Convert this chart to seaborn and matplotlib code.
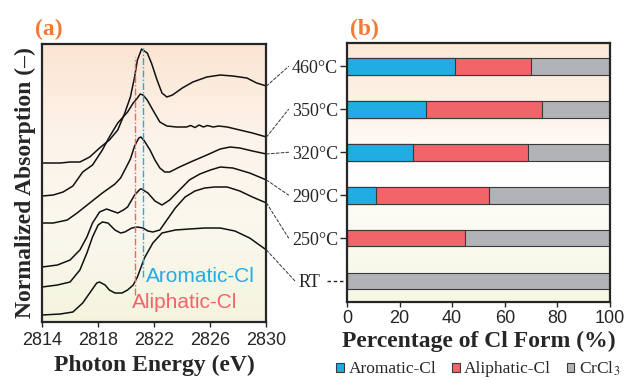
import matplotlib
matplotlib.use('Agg')
import matplotlib.pyplot as plt
from matplotlib.colors import LinearSegmentedColormap
from matplotlib.patches import Patch, ConnectionPatch
from matplotlib.lines import Line2D
import numpy as np
import pandas as pd
import seaborn as sns

# ---- (a) Cl K-edge spectra, offset stack ----
e_460 = [2814.0, 2815.3, 2816.0, 2816.7, 2817.4, 2818.1, 2818.8, 2819.4, 2819.9, 2820.3,
         2820.6, 2820.8, 2821.1, 2821.5, 2821.8, 2822.2, 2822.55, 2822.9, 2823.3, 2824.0,
         2824.75, 2825.75, 2826.7, 2827.6, 2828.6, 2829.3, 2830.0]
a_460 = [1.59, 1.59, 1.60, 1.60, 1.65, 1.74, 1.82, 1.92, 2.09, 2.25,
         2.45, 2.62, 2.73, 2.69, 2.59, 2.42, 2.29, 2.25, 2.27, 2.34,
         2.40, 2.45, 2.47, 2.46, 2.44, 2.39, 2.36]

e_350 = [2814.0, 2814.8, 2815.5, 2816.2, 2816.6, 2816.9, 2817.6, 2818.3, 2818.8, 2819.4,
         2820.1, 2820.5, 2820.8, 2821.0, 2821.2, 2821.5, 2821.9, 2822.4, 2822.9, 2823.6,
         2824.3, 2824.6, 2824.9, 2825.2, 2825.5, 2825.8, 2826.2, 2826.6, 2827.2, 2828.1,
         2829.0, 2830.0]
a_350 = [1.26, 1.27, 1.30, 1.36, 1.44, 1.50, 1.57, 1.72, 1.85, 1.99,
         2.10, 2.19, 2.24, 2.28, 2.27, 2.22, 2.12, 2.00, 1.96, 1.95,
         1.95, 1.965, 1.945, 1.97, 1.95, 1.965, 1.95, 1.96, 1.95, 1.92,
         1.89, 1.85]

e_320 = [2814.0, 2814.8, 2815.8, 2816.5, 2817.4, 2818.3, 2818.8, 2819.2, 2819.6, 2819.9,
         2820.3, 2820.6, 2820.9, 2821.05, 2821.3, 2821.7, 2822.05, 2822.4, 2822.75, 2823.1,
         2823.8, 2824.75, 2825.75, 2826.7, 2827.4, 2828.1, 2829.0, 2830.0]
a_320 = [0.99, 0.99, 1.02, 1.09, 1.19, 1.29, 1.34, 1.38, 1.44, 1.52,
         1.63, 1.76, 1.84, 1.85, 1.81, 1.72, 1.62, 1.54, 1.50, 1.50,
         1.55, 1.61, 1.67, 1.73, 1.75, 1.74, 1.71, 1.68]

e_290 = [2814.0, 2815.1, 2816.0, 2816.7, 2817.2, 2817.6, 2818.1, 2818.6, 2819.0, 2819.4,
         2819.8, 2820.1, 2820.6, 2821.0, 2821.1, 2821.55, 2822.05, 2822.55, 2823.1, 2823.8,
         2824.5, 2825.25, 2826.0, 2826.7, 2827.6, 2828.8, 2830.0]
a_290 = [0.55, 0.57, 0.62, 0.72, 0.85, 0.99, 1.10, 1.13, 1.11, 1.09,
         1.12, 1.15, 1.27, 1.33, 1.33, 1.29, 1.21, 1.17, 1.22, 1.32,
         1.42, 1.48, 1.52, 1.55, 1.54, 1.49, 1.42]

e_250 = [2814.0, 2815.1, 2816.0, 2816.7, 2817.2, 2817.6, 2818.0, 2818.3, 2818.7, 2819.2,
         2819.6, 2819.9, 2820.4, 2820.8, 2821.2, 2821.55, 2821.9, 2822.4, 2822.9, 2823.5,
         2824.2, 2824.9, 2825.6, 2826.3, 2827.2, 2828.1, 2829.0, 2830.0]
a_250 = [0.35, 0.37, 0.40, 0.52, 0.69, 0.85, 0.97, 1.00, 0.99, 0.92,
         0.89, 0.90, 0.94, 0.95, 0.94, 0.91, 0.90, 0.92, 1.02, 1.14,
         1.25, 1.31, 1.34, 1.35, 1.35, 1.31, 1.25, 1.19]

e_rt = [2814.0, 2815.3, 2816.2, 2816.9, 2817.4, 2817.9, 2818.1, 2818.5, 2818.8, 2819.2,
        2819.7, 2820.1, 2820.5, 2820.8, 2821.3, 2821.9, 2822.55, 2823.5, 2824.5, 2825.6,
        2826.7, 2827.75, 2828.8, 2830.0]
a_rt = [0.07, 0.08, 0.10, 0.19, 0.29, 0.39, 0.40, 0.37, 0.32, 0.29,
        0.29, 0.32, 0.37, 0.45, 0.64, 0.79, 0.89, 0.92, 0.93, 0.94,
        0.94, 0.91, 0.84, 0.72]

e_aliph = 2820.64   # Aliphatic-Cl reference line
e_arom = 2821.2     # Aromatic-Cl reference line

# ---- (b) Cl speciation (%) ----
temps = ['460°C', '350°C', '320°C', '290°C', '250°C', 'RT']
aromatic = [41, 30, 25, 11, 0, 0]
aliphatic = [29, 44, 44, 43, 45, 0]
crcl3 = [30, 26, 31, 46, 55, 100]

C_ARO = '#21ade3'
C_ALI = '#f0646a'
C_CR = '#b2b3b7'
INK = '#262626'
ORANGE = '#f27a34'

sns.set_style('ticks')
plt.rcParams['font.family'] = ['Liberation Serif', 'DejaVu Serif']
plt.rcParams['mathtext.fontset'] = 'stix'
plt.rcParams['axes.linewidth'] = 1.6
plt.rcParams['axes.edgecolor'] = INK


def shade(ax, colors):
    cmap = LinearSegmentedColormap.from_list('bg', colors)
    ax.imshow(np.linspace(0, 1, 256)[:, None], cmap=cmap, aspect='auto',
              extent=(0, 1, 0, 1), transform=ax.transAxes, zorder=0,
              interpolation='bilinear')


fig = plt.figure(figsize=(6.26, 3.8), dpi=100)
axa = fig.add_axes([0.0671, 0.1526, 0.3586, 0.7329])
axb = fig.add_axes([0.5543, 0.2053, 0.4201, 0.6803])

# ---------------- panel (a) ----------------
shade(axa, ['#fbe5d2', '#fdf3ea', '#faf8ee', '#f4f4de'])
spectra = [(e_460, a_460), (e_350, a_350), (e_320, a_320),
           (e_290, a_290), (e_250, a_250), (e_rt, a_rt)]
for e, a in spectra:
    sns.lineplot(x=e, y=a, ax=axa, color='#111111', lw=1.1, sort=False,
                 estimator=None, solid_joinstyle='round')

axa.plot([e_aliph, e_aliph], [0.27, 2.65], color=C_ALI, lw=1.0, ls=(0, (5, 1.5, 1, 1.5)))
axa.plot([e_arom, e_arom], [0.45, 2.74], color=C_ARO, lw=1.0, ls=(0, (5, 1.5, 1, 1.5)))
axa.text(2821.4, 0.46, 'Aromatic-Cl', color=C_ARO, fontsize=15, va='center',
         family='Liberation Sans')
axa.text(2820.42, 0.20, 'Aliphatic-Cl', color=C_ALI, fontsize=15, va='center',
         family='Liberation Sans')

axa.set_xlim(2814, 2830)
axa.set_ylim(0, 2.785)
axa.set_xticks([2814, 2818, 2822, 2826, 2830])
axa.set_yticks([])
axa.tick_params(axis='x', direction='out', length=3.5, width=1.0, pad=4,
                labelsize=13, colors=INK)
for lab in axa.get_xticklabels():
    lab.set_fontfamily('Liberation Sans')
axa.set_xlabel('Photon Energy (eV)', fontsize=17, fontweight='bold', color=INK)
axa.xaxis.set_label_coords(0.5, -0.118)
axa.set_ylabel('Normalized Absorption (–)', fontsize=17, fontweight='bold', color=INK)
axa.yaxis.set_label_coords(-0.027, 0.5)

# ---------------- panel (b) ----------------
shade(axb, ['#fce9d8', '#fdf3e8', '#ffffff', '#fafaf0', '#f7f7e4'])
df = pd.DataFrame({'temp': temps, 'aro': aromatic, 'ali': aliphatic, 'cr': crcl3})
df['ali_end'] = df['aro'] + df['ali']
df['cr_end'] = df['ali_end'] + df['cr']
for col, c in [('cr_end', C_CR), ('ali_end', C_ALI), ('aro', C_ARO)]:
    sns.barplot(data=df, x=col, y='temp', order=temps, orient='h', color=c,
                saturation=1, width=0.39, edgecolor='#3a3a3a', linewidth=0.8,
                errorbar=None, ax=axb)

axb.set_xlim(0, 100)
axb.set_ylim(5.49, -0.535)
axb.set_xticks(range(0, 101, 20))
axb.tick_params(axis='x', direction='out', length=3.5, width=1.0, pad=2.5,
                labelsize=13, colors=INK)
for lab in axb.get_xticklabels():
    lab.set_fontfamily('Liberation Sans')
axb.tick_params(axis='y', direction='out', length=5, width=1.0, pad=1.5,
                labelsize=13, colors=INK)
rt_tick = axb.yaxis.get_major_ticks()[temps.index('RT')]
rt_tick.tick1line.set_visible(False)
rt_tick.set_pad(14.5)
axb.add_line(Line2D([-0.075, -0.006], [temps.index('RT')] * 2,
                    transform=axb.get_yaxis_transform(), color=INK, lw=1.0,
                    ls=(0, (2.5, 2)), clip_on=False))
axb.set_ylabel('')
axb.set_xlabel('Percentage of Cl Form (%)', fontsize=17, fontweight='bold', color=INK)
axb.xaxis.set_label_coords(0.5, -0.112)

# dashed leaders from each spectrum end to its temperature label
lead_x = [-0.222, -0.222, -0.222, -0.222, -0.222, -0.198]
for i, (e, a) in enumerate(spectra):
    con = ConnectionPatch(xyA=(e[-1], a[-1]), coordsA=axa.transData,
                          xyB=(lead_x[i], i), coordsB=axb.get_yaxis_transform(),
                          color='#333333', lw=0.7, ls=(0, (3, 2)))
    fig.add_artist(con)

handles = [Patch(facecolor=C_ARO, edgecolor='#3a3a3a', lw=0.8),
           Patch(facecolor=C_ALI, edgecolor='#3a3a3a', lw=0.8),
           Patch(facecolor=C_CR, edgecolor='#3a3a3a', lw=0.8)]
fig.legend(handles, ['Aromatic-Cl', 'Aliphatic-Cl', 'CrCl$_3$'], loc='center',
           bbox_to_anchor=(0.764, 0.03), ncol=3, frameon=False, fontsize=12.5,
           handlelength=0.45, handleheight=0.45, handletextpad=0.25,
           columnspacing=0.9, borderaxespad=0, borderpad=0)

fig.text(0.056, 0.922, '(a)', color=ORANGE, fontsize=17, fontweight='bold', va='center')
fig.text(0.559, 0.922, '(b)', color=ORANGE, fontsize=17, fontweight='bold', va='center')

fig.savefig('out.png', dpi=100)
